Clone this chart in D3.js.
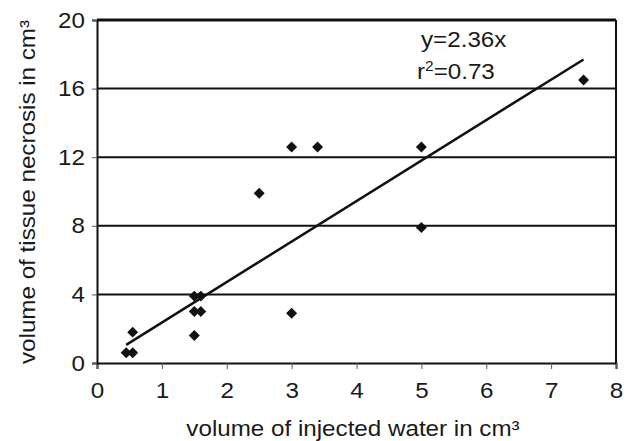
<!DOCTYPE html>
<html>
<head>
<meta charset="utf-8">
<script src="https://cdn.jsdelivr.net/npm/d3@7"></script>
<style>
  body { margin: 0; background: #fff; }
  text { font-family: Arial, "Liberation Sans", sans-serif; fill: #1a1a1a; }
</style>
</head>
<body>
<svg id="chart"></svg>
<script>
const width = 632;
const height = 441;

// measured data points
const waterVolume = [0.45, 0.55, 0.55, 1.5, 1.6, 1.5, 1.6, 1.5, 3.0, 2.5, 3.0, 3.4, 5.0, 5.0, 7.5];
const necrosisVolume = [0.6, 0.6, 1.8, 3.9, 3.9, 3.0, 3.0, 1.6, 2.9, 9.9, 12.6, 12.6, 12.6, 7.9, 16.5];

// fitted line endpoints (y = 2.36x)
const trendX = [0.45, 7.5];
const trendY = [1.06, 17.7];

const xTicks = [0, 1, 2, 3, 4, 5, 6, 7, 8];
const yTicks = [0, 4, 8, 12, 16, 20];

const margin = { top: 20, right: 16, bottom: 78, left: 97 };
const stretch = "scale(1.1,1)";

const svg = d3.select("#chart")
    .attr("width", width)
    .attr("height", height);

const x = d3.scaleLinear()
    .domain([0, 8])
    .range([margin.left, width - margin.right]);

const y = d3.scaleLinear()
    .domain([0, 20])
    .range([height - margin.bottom, margin.top]);

// horizontal grid lines
svg.append("g")
    .selectAll("line")
    .data(yTicks.filter(d => d > 0))
    .enter()
    .append("line")
    .attr("x1", x(0))
    .attr("x2", x(8))
    .attr("y1", d => y(d))
    .attr("y2", d => y(d))
    .attr("stroke", "#111")
    .attr("stroke-width", d => d === 20 ? 3 : 2);

// right border
svg.append("line")
    .attr("x1", x(8))
    .attr("x2", x(8))
    .attr("y1", y(20))
    .attr("y2", y(0))
    .attr("stroke", "#111")
    .attr("stroke-width", 2);

const xAxis = svg.append("g")
    .attr("transform", `translate(0,${y(0)})`)
    .call(d3.axisBottom(x).tickValues(xTicks).tickSize(6).tickPadding(13).tickFormat(d3.format("d")));

const yAxis = svg.append("g")
    .attr("transform", `translate(${x(0)},0)`)
    .call(d3.axisLeft(y).tickValues(yTicks).tickSize(5).tickPadding(6).tickFormat(d3.format("d")));

[xAxis, yAxis].forEach(a => {
    a.select(".domain").attr("stroke", "#111").attr("stroke-width", 2);
    a.selectAll(".tick line").attr("stroke", "#555").attr("stroke-width", 1);
    a.selectAll(".tick text")
        .style("font-size", "22px")
        .style("font-family", "Arial, 'Liberation Sans', sans-serif")
        .attr("fill", "#1a1a1a")
        .attr("transform", stretch);
});

// trend line
svg.append("line")
    .attr("x1", x(trendX[0]))
    .attr("y1", y(trendY[0]))
    .attr("x2", x(trendX[1]))
    .attr("y2", y(trendY[1]))
    .attr("stroke", "#111")
    .attr("stroke-width", 2.5);

// diamond markers
svg.append("g")
    .selectAll("path")
    .data(waterVolume.map((v, i) => [v, necrosisVolume[i]]))
    .enter()
    .append("path")
    .attr("d", d3.symbol(d3.symbolSquare, 60))
    .attr("transform", d => `translate(${x(d[0])},${y(d[1])}) rotate(45)`)
    .attr("fill", "#111");

// equation
svg.append("text")
    .attr("transform", `translate(421,47) ${stretch}`)
    .style("font-size", "22px")
    .text("y=2.36x");

const r2 = svg.append("text")
    .attr("transform", `translate(417,79) ${stretch}`)
    .style("font-size", "22px");
r2.append("tspan").text("r");
r2.append("tspan").attr("dy", -8).style("font-size", "14px").text("2");
r2.append("tspan").attr("dy", 8).text("=0.73");

// axis titles
svg.append("text")
    .attr("transform", `translate(353,436) ${stretch}`)
    .attr("text-anchor", "middle")
    .style("font-size", "22px")
    .text("volume of injected water in cm³");

svg.append("text")
    .attr("transform", `translate(35,192) rotate(-90) ${stretch}`)
    .attr("text-anchor", "middle")
    .style("font-size", "22px")
    .text("volume of tissue necrosis in cm³");
</script>
</body>
</html>
